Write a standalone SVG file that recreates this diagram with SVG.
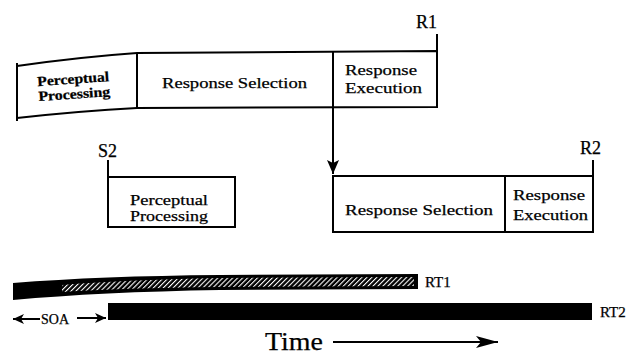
<svg xmlns="http://www.w3.org/2000/svg" width="632" height="356" viewBox="0 0 632 356">
<defs>
<style>
.ln{fill:none;stroke:#000;stroke-width:2}
.box{fill:#fff;stroke:#000;stroke-width:2}
.t{font-family:"Liberation Serif","Times New Roman",serif;fill:#000;stroke:#000;stroke-width:0.25}
.lb{font-size:15px}
.big{font-size:18px}
.bold{font-weight:bold;font-size:14px}
</style>
<pattern id="hatch" width="3.5" height="3.5" patternUnits="userSpaceOnUse" patternTransform="rotate(45)">
<rect width="3.5" height="3.5" fill="#000"/>
<rect width="1.1" height="3.5" fill="#fff"/>
</pattern>
<marker id="ah" viewBox="0 0 14 12" refX="14" refY="6" markerWidth="14" markerHeight="12" markerUnits="userSpaceOnUse" orient="auto">
<path d="M0,0 L14,6 L0,12 L3,6 Z" fill="#000"/>
</marker>
<marker id="ahs" viewBox="0 0 11 10" refX="11" refY="5" markerWidth="11" markerHeight="10" markerUnits="userSpaceOnUse" orient="auto">
<path d="M0,0 L11,5 L0,10 L3,5 Z" fill="#000"/>
</marker>
<marker id="aht" viewBox="0 0 22 12" refX="22" refY="6" markerWidth="22" markerHeight="12" markerUnits="userSpaceOnUse" orient="auto">
<path d="M0,0 L22,6 L0,12 L5,6 Z" fill="#000"/>
</marker>
</defs>
<rect width="632" height="356" fill="#fff"/>

<g id="task1">
<path class="box" d="M17,66 Q80,57 137,53 L437,51 L437,107 L137,108 Q80,111 17,118 Z"/>
<line class="ln" x1="17" y1="63" x2="17" y2="121" stroke-width="3.5"/>
<line class="ln" x1="137" y1="53" x2="137" y2="108"/>
<line class="ln" x1="333" y1="51" x2="333" y2="107"/>
<line class="ln" x1="437" y1="34" x2="437" y2="51"/>
<text class="t big" x="437" y="28" text-anchor="end">R1</text>
<g transform="rotate(-4 40 92)">
<text class="t bold" x="38" y="86" textLength="72" lengthAdjust="spacingAndGlyphs">Perceptual</text>
<text class="t bold" x="38" y="101" textLength="72" lengthAdjust="spacingAndGlyphs">Processing</text>
</g>
<text class="t lb" x="162" y="88" textLength="145" lengthAdjust="spacingAndGlyphs">Response Selection</text>
<text class="t lb" x="345" y="75" textLength="72" lengthAdjust="spacingAndGlyphs">Response</text>
<text class="t lb" x="345" y="93" textLength="77" lengthAdjust="spacingAndGlyphs">Execution</text>
</g>

<g id="task2-perceptual">
<rect class="box" x="108" y="177" width="127" height="50"/>
<line class="ln" x1="108" y1="160" x2="108" y2="177"/>
<text class="t big" x="98" y="157">S2</text>
<text class="t lb" x="130" y="205" textLength="78" lengthAdjust="spacingAndGlyphs">Perceptual</text>
<text class="t lb" x="130" y="221" textLength="78" lengthAdjust="spacingAndGlyphs">Processing</text>
</g>

<g id="task2-response">
<rect class="box" x="333" y="176" width="260" height="56"/>
<line class="ln" x1="505" y1="176" x2="505" y2="232"/>
<line class="ln" x1="593" y1="160" x2="593" y2="176"/>
<text class="t big" x="580" y="154">R2</text>
<text class="t lb" x="345" y="215" textLength="148" lengthAdjust="spacingAndGlyphs">Response Selection</text>
<text class="t lb" x="513" y="200" textLength="72" lengthAdjust="spacingAndGlyphs">Response</text>
<text class="t lb" x="513" y="220" textLength="75" lengthAdjust="spacingAndGlyphs">Execution</text>
</g>

<g id="connectors">
<line class="ln" x1="333" y1="107" x2="333" y2="174" marker-end="url(#ah)"/>
</g>

<g id="rt-bars">
<path d="M13,283 Q100,276 220,275 L418,274 L418,289 L220,290 Q100,292 13,300 Z" fill="#000"/>
<path d="M62,285 Q120,280 220,278 L414,277 L414,286 L220,287 Q120,288 62,292 Z" fill="url(#hatch)"/>
<text class="t lb" x="425" y="287">RT1</text>
<rect x="108" y="303" width="484" height="17" fill="#000"/>
<text class="t lb" x="600" y="317">RT2</text>
<line class="ln" x1="40" y1="319" x2="13" y2="319" marker-end="url(#ahs)"/>
<text class="t" x="41" y="324" font-size="14">SOA</text>
<line class="ln" x1="77" y1="318" x2="106" y2="318" marker-end="url(#ahs)"/>
</g>

<g id="time">
<text class="t" x="265" y="350" font-size="26" textLength="58" lengthAdjust="spacingAndGlyphs">Time</text>
<line class="ln" x1="333" y1="342" x2="498" y2="342" stroke-width="1.5" marker-end="url(#aht)"/>
</g>
</svg>
